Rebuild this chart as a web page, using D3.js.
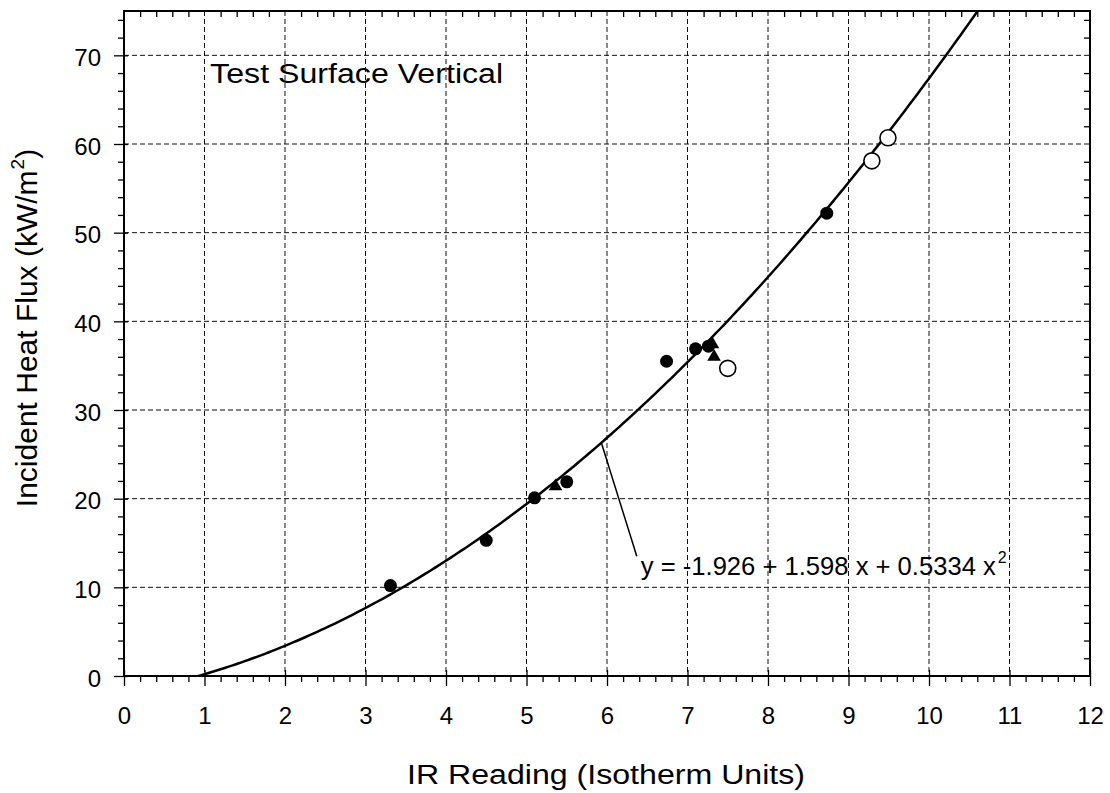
<!DOCTYPE html>
<meta charset="utf-8">
<style type="text/css">
    body { margin: 0; background: white; }
    svg text { font-family: "Liberation Sans", Arial, sans-serif; fill: black }
    .grid line { stroke: #111; stroke-width: 1; stroke-dasharray: 5,3 }
    .axis path { display: none }
    .axis line { stroke: black; stroke-width: 1.3 }
    .axis text { font-size: 24px }
    .frame { fill: none; stroke: black; stroke-width: 2 }
    .fit { fill: none; stroke: black; stroke-width: 2.5 }
</style>
<body>
<script src="https://cdn.jsdelivr.net/npm/d3@7"></script>
<script>
    // data
    var circleX   = [3.31, 4.50, 5.10, 5.50, 6.74, 7.10, 7.26, 8.73];
    var circleY   = [10.2, 15.3, 20.1, 21.9, 35.5, 36.9, 37.2, 52.2];
    var triangleX = [5.36, 7.31, 7.33];
    var triangleY = [21.4, 37.4, 36.0];
    var openX     = [7.50, 9.29, 9.49];
    var openY     = [34.7, 58.1, 60.7];
    var fitCoef   = [-1.926, 1.598, 0.5334];   // y = a + b x + c x^2
    var xTicks    = [0, 1, 2, 3, 4, 5, 6, 7, 8, 9, 10, 11, 12];
    var yTicks    = [0, 10, 20, 30, 40, 50, 60, 70];
    var leaderFrom = [5.93];         // x on the curve
    var leaderTo   = [6.37, 13.5];   // end of pointer line
    var eqPos      = [6.42, 11.4];
    var titlePos   = [1.07, 66.9];

    var w = 1110, h = 793;
    // plot box (note: "top" is a reserved window prop, so use pT etc)
    var pL = 124, pR = 1090, pT = 11, pB = 676;

    var x = d3.scaleLinear().domain([0, 12]).range([pL, pR]);
    var y = d3.scaleLinear().domain([0, 75]).range([pB, pT]);

    var svg = d3.select("body").append("svg")
        .attr("width", w).attr("height", h);

    svg.append("clipPath").attr("id", "clip")
        .append("rect").attr("x", pL).attr("y", pT)
        .attr("width", pR - pL).attr("height", pB - pT);

    // dashed grid
    var grid = svg.append("g").attr("class", "grid");
    grid.selectAll("line.v").data(xTicks.slice(1, -1)).enter().append("line").attr("class", "v")
        .attr("x1", d => x(d)).attr("x2", d => x(d))
        .attr("y1", pT).attr("y2", pB);
    grid.selectAll("line.h").data(yTicks.slice(1)).enter().append("line").attr("class", "h")
        .attr("y1", d => y(d)).attr("y2", d => y(d))
        .attr("x1", pL).attr("x2", pR);

    var xMinor = d3.range(0, 12.01, 0.2).filter(d => Math.abs(d - Math.round(d)) > 0.01);
    var yMinor = d3.range(0, 75.01, 2).filter(d => d % 10 != 0);

    // bottom: minor ticks outward, major ticks crossing
    svg.append("g").attr("class", "axis").attr("transform", "translate(0," + pB + ")")
        .call(d3.axisBottom(x).tickValues(xMinor).tickSize(6).tickFormat(""));
    var gx = svg.append("g").attr("class", "axis").attr("transform", "translate(0," + pB + ")")
        .call(d3.axisBottom(x).tickValues(xTicks).tickSize(10).tickPadding(21).tickFormat(d3.format("d")));
    gx.selectAll("line").attr("y1", -6);

    // left
    svg.append("g").attr("class", "axis").attr("transform", "translate(" + pL + ",0)")
        .call(d3.axisLeft(y).tickValues(yMinor).tickSize(6).tickFormat(""));
    var gy = svg.append("g").attr("class", "axis").attr("transform", "translate(" + pL + ",0)")
        .call(d3.axisLeft(y).tickValues(yTicks).tickSize(10).tickPadding(13).tickFormat(d3.format("d")));
    gy.selectAll("line").attr("x1", 4);
    gy.selectAll("text").attr("dy", "0.42em");

    // top and right: minor ticks inward
    svg.append("g").attr("class", "axis").attr("transform", "translate(0," + pT + ")")
        .call(d3.axisTop(x).tickValues(xMinor).tickSize(-6).tickFormat(""));
    svg.append("g").attr("class", "axis").attr("transform", "translate(" + pR + ",0)")
        .call(d3.axisRight(y).tickValues(yMinor).tickSize(-6).tickFormat(""));

    svg.append("rect").attr("class", "frame")
        .attr("x", pL).attr("y", pT)
        .attr("width", pR - pL).attr("height", pB - pT);

    // fitted curve from the printed equation
    var fit = function(v) { return fitCoef[0] + fitCoef[1] * v + fitCoef[2] * v * v; };
    var curveX = d3.range(0.9, 10.8, 0.05);
    svg.append("path").attr("class", "fit")
        .attr("clip-path", "url(#clip)")
        .attr("d", d3.line().x(d => x(d)).y(d => y(fit(d)))(curveX));

    // pointer line to the equation
    svg.append("line")
        .attr("x1", x(leaderFrom[0])).attr("y1", y(fit(leaderFrom[0])))
        .attr("x2", x(leaderTo[0])).attr("y2", y(leaderTo[1]))
        .attr("stroke", "black").attr("stroke-width", 1.5);

    // markers
    svg.selectAll("circle.fill").data(d3.range(circleX.length)).enter()
        .append("circle").attr("class", "fill")
        .attr("cx", i => x(circleX[i])).attr("cy", i => y(circleY[i]))
        .attr("r", 6.5).attr("fill", "black");

    svg.selectAll("path.tri").data(d3.range(triangleX.length)).enter()
        .append("path").attr("class", "tri")
        .attr("transform", i => "translate(" + x(triangleX[i]) + "," + y(triangleY[i]) + ")")
        .attr("d", d3.symbol().type(d3.symbolTriangle).size(80))
        .attr("fill", "black");

    svg.selectAll("circle.open").data(d3.range(openX.length)).enter()
        .append("circle").attr("class", "open")
        .attr("cx", i => x(openX[i])).attr("cy", i => y(openY[i]))
        .attr("r", 8).attr("fill", "white").attr("stroke", "black").attr("stroke-width", 1.6);

    // texts
    svg.append("text")
        .attr("x", x(titlePos[0])).attr("y", y(titlePos[1]))
        .attr("font-size", 27).attr("textLength", 293).attr("lengthAdjust", "spacingAndGlyphs")
        .text("Test Surface Vertical");

    var eq = svg.append("text")
        .attr("x", x(eqPos[0])).attr("y", y(eqPos[1]))
        .attr("font-size", 26);
    eq.append("tspan").attr("textLength", 355).attr("lengthAdjust", "spacingAndGlyphs")
        .text("y = -1.926 + 1.598 x + 0.5334 x");
    eq.append("tspan").attr("font-size", 16).attr("dx", 2).attr("dy", -12).text("2");

    svg.append("text")
        .attr("x", (pL + pR) / 2 - 1).attr("y", 784)
        .attr("text-anchor", "middle")
        .attr("font-size", 27).attr("textLength", 398).attr("lengthAdjust", "spacingAndGlyphs")
        .text("IR Reading (Isotherm Units)");

    var yl = svg.append("text")
        .attr("transform", "translate(37," + 328 + ") rotate(-90)")
        .attr("text-anchor", "middle")
        .attr("font-size", 30);
    yl.append("tspan").text("Incident Heat Flux (kW/m");
    yl.append("tspan").attr("font-size", 19).attr("dx", 1).attr("dy", -13).text("2");
    yl.append("tspan").attr("dy", 13).text(")");
</script>
</body>
